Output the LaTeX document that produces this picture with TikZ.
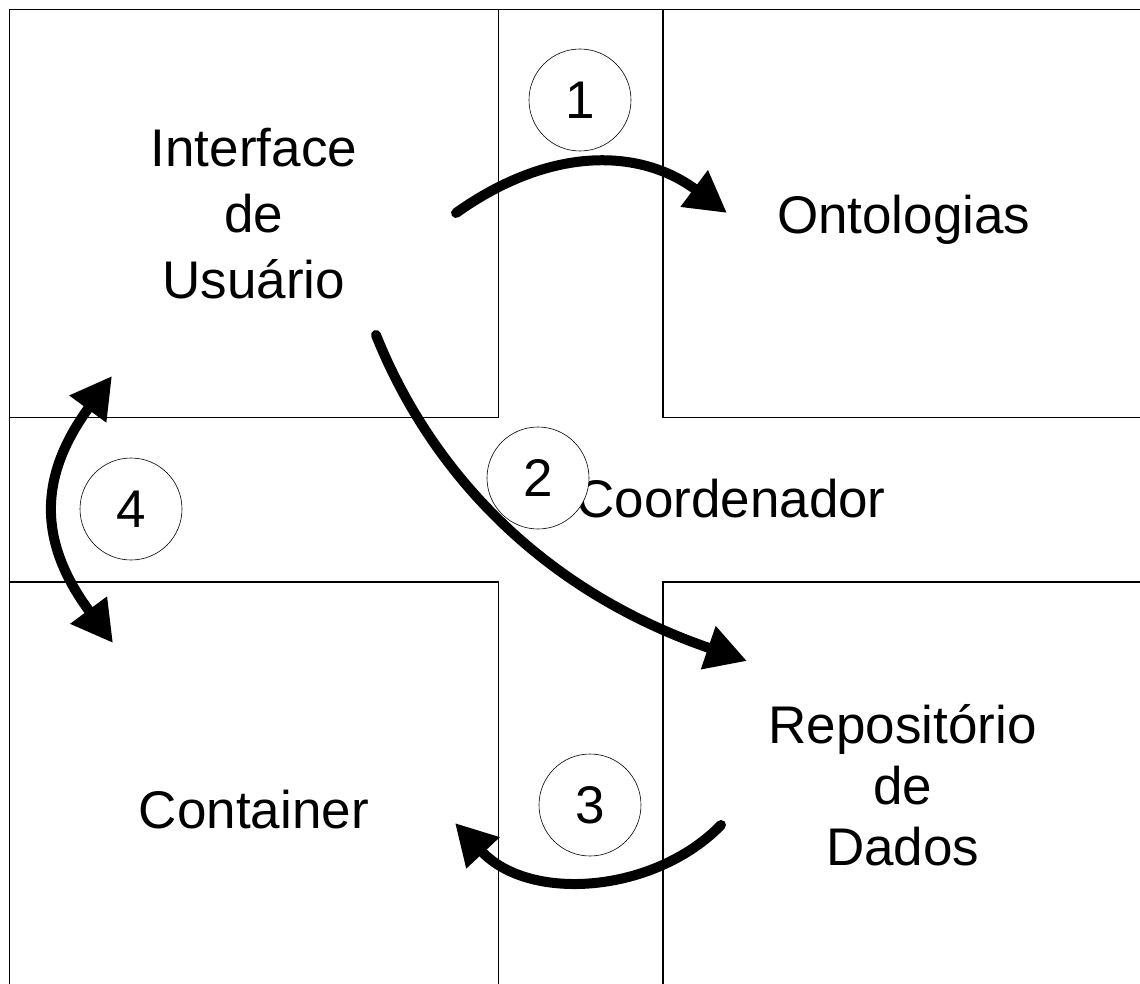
\documentclass[tikz,border=0pt]{standalone}
\usepackage{fontspec}
\setmainfont{Liberation Sans}
\usetikzlibrary{arrows.meta, positioning}
\tikzset{
  region/.style={rectangle, draw, line width=0.8pt, inner sep=0pt,
                 minimum width=489pt, minimum height=408pt},
  caption/.style={align=center, font=\fontsize{53}{66}\selectfont},
  stepmark/.style={circle, draw, fill=white, line width=0.6pt,
                   minimum size=102pt, inner sep=0pt,
                   font=\fontsize{53}{62}\selectfont},
  flow/.style={-{Triangle[length=41pt,width=43pt]}, line width=10pt, line cap=round},
  flowboth/.style={{Triangle[length=41pt,width=43pt]}-{Triangle[length=41pt,width=43pt]},
                   line width=10pt, line cap=round}
}

\begin{document}
\begin{tikzpicture}[x=1pt, y=-1pt, node distance=164pt]
\useasboundingbox (0,0) rectangle (1140,984);
\clip (0,0) rectangle (1140,984);

% Corner regions (2x2 grid)
\node[region, anchor=north west] (UI) at (9,9) {};
\node[region, right=of UI] (Onto) {};
\node[region, below=of UI] (Cont) {};
\node[region, right=of Cont] (Repo) {};

% Coordinator cross
\draw[line width=0.8pt] (UI.north east) -- (Onto.north west) -- (Onto.south west)
  -- (Onto.south east) -- (Repo.north east) -- (Repo.north west) -- (Repo.south west)
  -- (Cont.south east) -- (Cont.north east) -- (Cont.north west) -- (UI.south west)
  -- (UI.south east) -- cycle;

% Captions
\node[caption] (UItext) at (UI.center) {Interface\\de\\Usuário};
\node[caption] (Ontotext) at ([xshift=-4pt,yshift=-6pt]Onto.center) {Ontologias};
\node[caption] (Conttext) at ([yshift=-23pt]Cont.center) {Container};
\node[caption, font=\fontsize{53}{61}\selectfont] (Repotext)
  at ([xshift=-5pt,yshift=1pt]Repo.center) {Repositório\\de\\Dados};
\node[caption] (Coordtext) at (731,499) {Coordenador};

% Step numbers
\node[stepmark] (S1) at (580,100) {1};
\node[stepmark] (S2) at (538,478) {2};
\node[stepmark] (S3) at (590,805) {3};
\node[stepmark] (S4) at (131,509) {4};

% Arrow ends
\coordinate (a1s) at (456,213);
\coordinate (a1e) at (727,213);
\coordinate (a2s) at (376,335);
\coordinate (a2e) at (747,661);
\coordinate (a3s) at (721,825);
\coordinate (a3e) at (455,823);
\coordinate (a4s) at (112,376);
\coordinate (a4e) at (113,643);

% --- Flows ---
% 1: Interface -> Ontologias
\draw[flow] (a1s) .. controls (550,146) and (640,148) .. (a1e);
% 2: Interface -> Repositorio
\draw[flow] (a2s) .. controls (430,470) and (540,590) .. (a2e);
% 3: Repositorio -> Container
\draw[flow] (a3s) .. controls (655,893) and (530,903) .. (a3e);
% 4: Interface <-> Container
\draw[flowboth] (a4s) .. controls (38,477) and (38,542) .. (a4e);

\end{tikzpicture}
\end{document}
